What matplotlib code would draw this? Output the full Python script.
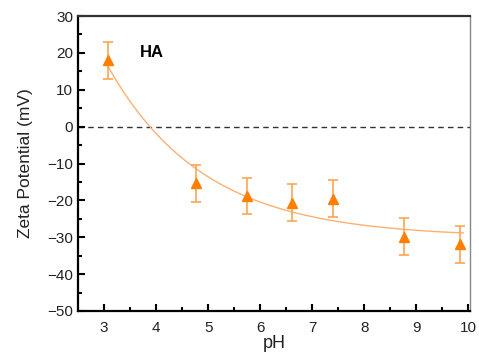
import matplotlib
matplotlib.use('Agg')
import matplotlib.pyplot as plt
import numpy as np

plt.rcParams['font.family'] = ['Liberation Sans', 'DejaVu Sans']

ph = [3.07, 4.76, 5.75, 6.62, 7.40, 8.77, 9.84]
zeta = [18.0, -15.4, -18.8, -20.6, -19.6, -29.8, -31.9]
zeta_err = [5.0, 5.0, 4.8, 5.0, 5.0, 5.0, 5.0]

# ExpDec1 fit: y = y0 + A*exp(-(x - x0)/t)
fit_y0, fit_a, fit_t, fit_x0 = -30.0, 47.0, 1.85, 3.05
fit_range = (3.05, 9.9)

xticks = [3, 4, 5, 6, 7, 8, 9, 10]
yticks = [30, 20, 10, 0, -10, -20, -30, -40, -50]

fig = plt.figure(figsize=(4.79, 3.53), dpi=100)
ax = fig.add_axes([78/479, 1-311/353, (470-78)/479, (311-16)/353])

xf = np.linspace(fit_range[0], fit_range[1], 200)
ax.plot(xf, fit_y0 + fit_a*np.exp(-(xf-fit_x0)/fit_t), color='#ffb070', lw=1.0, zorder=2)
ax.axhline(0, color='#333333', lw=1.0, ls=(0, (4, 3)), zorder=1)
ax.errorbar(ph, zeta, yerr=zeta_err, fmt='none', ecolor='#ffa550', elinewidth=1.2,
            capsize=3.5, capthick=1.2, zorder=3)
ax.plot(ph, zeta, ls='none', marker='^', ms=7, color='#ff7f00', zorder=4)

ax.text(3.69, 20, 'HA', fontsize=12, fontweight='bold', ha='left', va='center')

ax.set_xlim(2.5, 10.03)
ax.set_ylim(-50, 30)
ax.set_xticks(xticks)
ax.set_yticks(yticks)
ax.set_xticks(np.arange(3.5, 10, 1), minor=True)
ax.set_yticks(np.arange(-45, 30, 10), minor=True)
ax.tick_params(which='both', direction='in', top=False, right=False, labelsize=11,
               colors='black', labelcolor='#222222')
ax.tick_params(axis='x', which='major', pad=7)
ax.tick_params(which='major', length=5, width=1.5)
ax.tick_params(which='minor', length=3, width=1.5)
for s in ['left', 'bottom', 'top']:
    ax.spines[s].set_linewidth(1.6)
ax.spines['top'].set_color('#333333')
ax.spines['right'].set_linewidth(1.0)
ax.spines['right'].set_color('#888888')

ax.set_xlabel('pH', fontsize=13, labelpad=0, color='#222222')
ax.set_ylabel('Zeta Potential (mV)', fontsize=12.5, labelpad=10, color='#222222')

plt.savefig('out.png', dpi=100)
